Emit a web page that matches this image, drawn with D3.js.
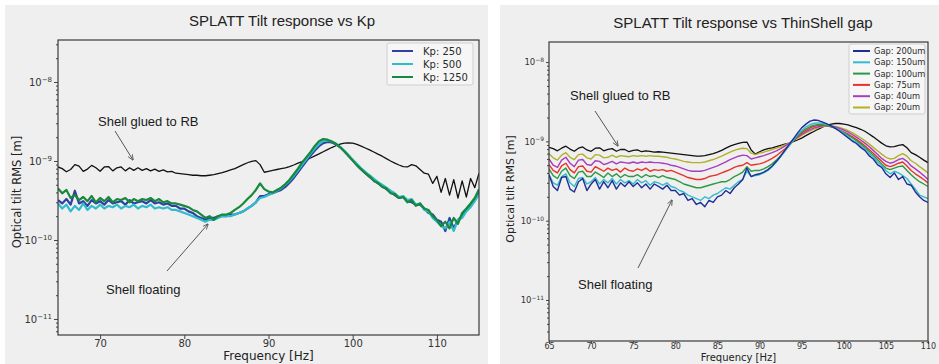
<!DOCTYPE html>
<html>
<head>
<meta charset="utf-8">
<script src="https://cdn.jsdelivr.net/npm/d3@7"></script>
<style>
  body { margin: 0; background: #fff; }
  svg { display: block; }
</style>
</head>
<body>
<svg id="chart" width="939" height="364"></svg>
<script>
// frequency grid of both measurements: one sample every 0.5 Hz from 65 Hz
const freqStart = 65;
const freqStep = 0.5;

// optical tilt RMS, in units of 1e-10 m
const yUnit = 1e-10;

// left panel: 65 .. 115 Hz
const kpGlued = [
  8.4, 8.0, 7.3, 7.8, 9.0, 8.6, 7.4, 7.9, 8.8, 8.2,
  7.4, 8.4, 8.5, 7.5, 8.2, 8.4, 7.5, 8.2, 7.6, 8.2,
  7.6, 8.0, 7.5, 7.9, 7.4, 7.7, 7.3, 7.4, 7.0, 6.9,
  6.8, 6.7, 6.6, 6.6, 6.5, 6.5, 6.6, 6.7, 6.9, 7.1,
  7.4, 7.7, 8.0, 8.5, 9.0, 9.5, 9.9, 10.1, 9.0, 7.2,
  7.4, 7.6, 7.8, 8.0, 8.2, 8.5, 8.9, 9.4, 9.8, 10.3,
  10.9, 11.6, 12.3, 13.1, 13.9, 14.8, 15.6, 16.3, 16.8, 17.0,
  16.8, 16.2, 15.4, 14.6, 13.8, 13.0, 12.2, 11.5, 10.7, 10.0,
  9.4, 8.9, 8.5, 8.4, 9.0, 8.7, 7.8, 7.0, 6.8, 5.2,
  6.4, 4.0, 6.0, 3.7, 5.8, 3.4, 5.6, 3.5, 6.0, 4.6,
  7.0
];
const kp250 = [
  3.2, 2.9, 3.3, 2.8, 4.2, 2.9, 3.1, 2.7, 3.2, 2.9,
  3.1, 2.8, 3.2, 2.9, 3.0, 3.1, 2.8, 3.2, 2.9, 3.0,
  3.1, 2.9, 3.2, 2.9, 3.0, 2.8, 2.9, 2.7, 2.7, 2.5,
  2.5, 2.3, 2.2, 2.0, 1.9, 1.8, 1.9, 1.9, 2.0, 2.0,
  2.0, 2.1, 2.1, 2.2, 2.3, 2.5, 2.7, 3.0, 3.6, 3.6,
  3.8, 3.9, 4.1, 4.3, 4.7, 5.3, 6.1, 7.2, 8.5, 10.0,
  11.7, 13.6, 15.4, 16.8, 17.4, 17.2, 16.3, 14.9, 13.3, 11.7,
  10.2, 8.9, 7.8, 7.0, 6.3, 5.7, 5.2, 4.8, 4.4, 4.0,
  3.7, 3.4, 3.5, 3.1, 3.0, 2.8, 2.8, 2.5, 2.2, 2.1,
  1.8, 1.7, 1.3, 1.9, 1.4, 1.8, 2.0, 2.4, 2.7, 3.2,
  4.0
];
const kp500 = [
  2.9, 2.5, 2.8, 2.3, 2.7, 2.4, 2.9, 2.4, 2.7, 2.5,
  2.8, 2.5, 2.7, 2.6, 2.8, 2.5, 2.7, 2.6, 2.8, 2.5,
  2.7, 2.6, 2.8, 2.5, 2.6, 2.5, 2.6, 2.4, 2.4, 2.3,
  2.2, 2.1, 2.0, 1.9, 1.8, 1.7, 1.8, 1.8, 1.9, 2.0,
  2.0, 2.0, 2.1, 2.2, 2.3, 2.5, 2.7, 3.0, 3.4, 3.5,
  3.7, 3.9, 4.2, 4.5, 5.0, 5.6, 6.5, 7.6, 9.0, 10.6,
  12.4, 14.4, 16.3, 17.8, 18.2, 17.7, 16.6, 15.1, 13.5, 11.9,
  10.4, 9.2, 8.1, 7.3, 6.6, 6.0, 5.4, 5.0, 4.6, 4.2,
  3.9, 3.5, 3.6, 3.2, 3.3, 2.8, 2.9, 2.4, 2.3, 1.9,
  1.7, 1.5, 1.4, 1.7, 1.3, 1.8, 1.9, 2.3, 2.6, 3.1,
  3.8
];
const kp1250 = [
  4.5, 3.9, 4.3, 3.4, 3.7, 3.2, 3.5, 3.1, 3.6, 3.0,
  3.4, 3.1, 3.5, 3.0, 3.3, 3.2, 3.4, 3.0, 3.3, 3.1,
  3.3, 3.2, 3.4, 3.1, 3.3, 3.0, 3.1, 2.9, 2.9, 2.8,
  2.7, 2.6, 2.4, 2.3, 2.1, 1.9, 2.0, 1.8, 2.0, 2.1,
  2.1, 2.2, 2.4, 2.6, 2.9, 3.3, 3.7, 4.3, 5.2, 4.4,
  4.1, 4.0, 4.3, 4.6, 5.1, 5.8, 6.8, 8.0, 9.6, 11.2,
  13.0, 15.5, 17.8, 19.0, 18.6, 17.6, 16.5, 15.0, 13.3, 11.6,
  10.1, 8.8, 7.9, 7.0, 6.4, 5.6, 5.3, 4.7, 4.5, 3.9,
  3.8, 3.4, 3.5, 3.0, 3.2, 2.7, 2.9, 2.5, 2.4, 2.0,
  1.8, 1.5, 1.7, 1.4, 1.9, 1.6, 2.2, 2.5, 2.9, 3.4,
  4.4
];

// right panel: 65 .. 110 Hz
const gapGlued = [
  8.4, 8.1, 7.6, 8.2, 8.7, 8.0, 7.5, 8.2, 8.5, 7.8,
  7.5, 8.2, 8.3, 7.6, 7.9, 8.1, 7.5, 7.9, 7.9, 7.4,
  7.7, 7.8, 7.4, 7.6, 7.5, 7.3, 7.4, 7.3, 7.2, 7.1,
  7.0, 6.9, 6.8, 6.7, 6.6, 6.5, 6.5, 6.6, 6.8, 7.0,
  7.3, 7.7, 8.2, 8.7, 9.1, 9.4, 9.7, 9.8, 7.8, 6.9,
  7.4, 7.8, 8.1, 8.3, 8.6, 8.9, 9.2, 9.5, 9.9, 10.4,
  11.0, 11.8, 12.6, 13.4, 14.3, 15.2, 15.9, 16.5, 16.8, 16.8,
  16.5, 16.1, 15.5, 14.9, 14.2, 13.4, 12.4, 11.4, 10.4, 9.5,
  8.8, 8.5, 8.6, 8.9, 9.1, 8.3, 7.2, 6.8, 6.3, 5.8,
  5.4
];
const gap200 = [
  3.8, 2.7, 2.4, 3.5, 3.6, 2.5, 2.3, 3.1, 3.4, 2.4,
  2.9, 3.3, 2.5, 3.1, 2.6, 3.2, 2.5, 3.0, 2.7, 3.1,
  2.7, 3.0, 2.6, 2.9, 2.5, 2.9, 2.7, 2.5, 2.8, 2.4,
  2.4, 2.1, 2.2, 1.8, 1.9, 1.6, 1.7, 1.5, 1.8, 1.7,
  2.0, 2.1, 2.4, 2.2, 2.6, 2.9, 3.3, 4.6, 3.6, 3.8,
  3.9, 4.1, 4.4, 4.9, 5.6, 6.5, 7.7, 9.1, 10.7, 12.7,
  14.8, 16.5, 18.0, 18.6, 18.3, 17.5, 16.6, 15.7, 14.6, 13.4,
  12.2, 11.1, 10.1, 9.4, 8.4, 7.7, 6.6, 6.0, 5.1, 4.7,
  3.9, 3.5, 4.0, 3.3, 3.6, 2.9, 2.8, 2.3, 2.0, 1.8,
  1.7
];
const gap150 = [
  3.8, 3.0, 2.8, 3.6, 3.9, 3.0, 2.7, 3.4, 3.5, 2.9,
  3.1, 3.5, 2.9, 3.3, 3.0, 3.4, 2.9, 3.3, 3.0, 3.2,
  2.9, 3.3, 3.0, 3.2, 2.8, 3.1, 3.0, 2.8, 3.0, 2.7,
  2.6, 2.4, 2.3, 2.1, 2.0, 1.9, 1.8, 2.0, 1.9, 2.1,
  2.2, 2.4, 2.6, 2.5, 2.8, 3.1, 3.3, 4.2, 3.6, 3.7,
  3.8, 4.0, 4.3, 4.8, 5.5, 6.4, 7.5, 8.8, 10.3, 12.1,
  13.7, 15.2, 16.3, 16.9, 17.1, 16.9, 16.4, 15.7, 14.8, 13.7,
  12.6, 11.5, 10.4, 9.8, 8.8, 8.1, 7.0, 6.4, 5.5, 5.0,
  4.3, 3.9, 4.2, 4.0, 3.7, 3.4, 2.9, 2.5, 2.1, 2.0,
  1.9
];
const gap100 = [
  4.5, 3.7, 3.4, 4.2, 4.6, 3.7, 3.4, 4.1, 4.2, 3.6,
  3.6, 4.1, 3.8, 3.5, 4.0, 3.6, 3.9, 3.5, 3.8, 3.6,
  3.6, 3.8, 3.5, 3.8, 3.6, 3.7, 3.5, 3.7, 3.5, 3.4,
  3.3, 3.1, 2.9, 2.8, 2.7, 2.6, 2.6, 2.7, 2.8, 2.9,
  3.0, 3.1, 3.1, 3.3, 3.6, 3.8, 4.1, 4.8, 4.2, 4.3,
  4.3, 4.5, 4.8, 5.2, 5.8, 6.6, 7.6, 8.8, 10.2, 11.8,
  13.2, 14.4, 15.4, 16.0, 16.3, 16.2, 15.9, 15.3, 14.6, 13.8,
  12.9, 12.0, 11.1, 10.2, 9.3, 8.4, 7.5, 6.7, 5.9, 5.2,
  4.6, 4.4, 4.6, 4.8, 4.9, 4.3, 3.8, 3.4, 3.1, 2.9,
  2.7
];
const gap75 = [
  5.1, 4.3, 4.0, 4.9, 5.3, 4.4, 4.0, 4.8, 4.9, 4.2,
  4.1, 4.8, 4.5, 4.2, 4.6, 4.3, 4.5, 4.1, 4.6, 4.3,
  4.2, 4.5, 4.3, 4.6, 4.2, 4.4, 4.3, 4.4, 4.2, 4.3,
  4.1, 3.9, 3.7, 3.5, 3.4, 3.3, 3.3, 3.4, 3.6, 3.7,
  3.8, 4.0, 4.2, 4.4, 4.7, 4.9, 5.0, 5.4, 5.0, 5.1,
  5.2, 5.4, 5.7, 6.1, 6.6, 7.3, 8.0, 8.9, 10.2, 11.5,
  12.7, 13.8, 14.8, 15.5, 15.9, 16.0, 15.8, 15.3, 14.7, 13.9,
  13.1, 12.3, 11.5, 10.6, 9.7, 8.8, 7.9, 7.1, 6.3, 5.6,
  5.0, 4.8, 5.0, 5.3, 5.5, 4.9, 4.3, 3.9, 3.6, 3.3,
  3.0
];
const gap40 = [
  6.0, 5.0, 4.7, 5.8, 6.3, 5.3, 4.8, 5.8, 5.9, 5.1,
  5.0, 5.7, 5.6, 5.1, 5.3, 5.6, 5.2, 5.5, 5.4, 5.3,
  5.5, 5.3, 5.5, 5.4, 5.5, 5.4, 5.4, 5.3, 5.2, 5.0,
  4.9, 4.7, 4.5, 4.3, 4.2, 4.2, 4.2, 4.3, 4.5, 4.7,
  4.9, 5.2, 5.5, 5.9, 6.2, 6.5, 6.7, 6.6, 6.0, 6.2,
  6.4, 6.6, 6.9, 7.2, 7.6, 8.1, 8.7, 9.4, 10.3, 11.2,
  12.2, 13.2, 14.1, 14.8, 15.3, 15.7, 15.8, 15.6, 15.2, 14.6,
  13.9, 13.1, 12.2, 11.3, 10.4, 9.5, 8.6, 7.7, 6.9, 6.1,
  5.6, 5.3, 5.5, 5.9, 6.1, 5.6, 4.9, 4.5, 4.1, 3.7,
  3.3
];
const gap20 = [
  7.0, 6.2, 5.8, 6.7, 7.2, 6.3, 5.9, 6.8, 6.9, 6.2,
  6.0, 6.8, 6.7, 6.2, 6.3, 6.7, 6.3, 6.6, 6.5, 6.4,
  6.6, 6.5, 6.6, 6.5, 6.6, 6.5, 6.5, 6.4, 6.3, 6.1,
  6.0, 5.8, 5.6, 5.5, 5.4, 5.4, 5.4, 5.5, 5.7, 5.9,
  6.2, 6.5, 6.9, 7.3, 7.7, 8.0, 8.2, 8.1, 7.1, 6.8,
  7.1, 7.3, 7.6, 7.9, 8.2, 8.6, 9.0, 9.5, 10.2, 11.0,
  11.9, 12.8, 13.6, 14.3, 14.9, 15.4, 15.6, 15.6, 15.4, 15.0,
  14.4, 13.7, 12.9, 12.0, 11.1, 10.2, 9.3, 8.4, 7.6, 6.9,
  6.3, 6.0, 6.1, 6.6, 7.0, 6.5, 5.7, 5.3, 4.8, 4.4,
  4.0
];

const kpLabels = ["Kp: 250", "Kp: 500", "Kp: 1250"];
const gapLabels = ["Gap: 200um", "Gap: 150um", "Gap: 100um", "Gap: 75um", "Gap: 40um", "Gap: 20um"];
const kpXTicks = [70, 80, 90, 100, 110];
const gapXTicks = [65, 70, 75, 80, 85, 90, 95, 100, 105, 110];
const yDecades = [1e-11, 1e-10, 1e-9, 1e-8];

const svg = d3.select("#chart");
const defs = svg.append("defs");
defs.append("marker")
  .attr("id", "arrowhead")
  .attr("viewBox", "0 0 10 10")
  .attr("refX", 9).attr("refY", 5)
  .attr("markerWidth", 6).attr("markerHeight", 6)
  .attr("orient", "auto-start-reverse")
  .append("path")
  .attr("d", "M0,1 L10,5 L0,9")
  .attr("fill", "none")
  .attr("stroke", "#555")
  .attr("stroke-width", 1.4);

function toPoints(values) {
  return values.map((v, i) => ({ f: freqStart + i * freqStep, v: v * yUnit }));
}

function drawPanel(cfg) {
  const g = svg.append("g");
  g.append("rect")
    .attr("x", cfg.bg[0]).attr("y", cfg.bg[1])
    .attr("width", cfg.bg[2]).attr("height", cfg.bg[3])
    .attr("fill", "#efefef");

  const p = cfg.plot;
  const x = d3.scaleLinear().domain(cfg.xDomain).range([p.left, p.right]);
  const y = d3.scaleLog().domain(cfg.yDomain).range([p.bottom, p.top]);

  // title
  g.append("text")
    .attr("x", cfg.titleX).attr("y", cfg.titleY)
    .attr("text-anchor", "middle")
    .attr("font-family", "Liberation Sans, Arial, sans-serif")
    .attr("font-size", 15)
    .attr("fill", "#222")
    .text(cfg.title);

  // curves
  const clipId = "clip-" + cfg.id;
  defs.append("clipPath").attr("id", clipId)
    .append("rect")
    .attr("x", p.left).attr("y", p.top)
    .attr("width", p.right - p.left).attr("height", p.bottom - p.top);

  const line = d3.line().x(d => x(d.f)).y(d => y(d.v));
  const lines = g.append("g").attr("clip-path", `url(#${clipId})`);
  cfg.series.forEach(s => {
    lines.append("path")
      .datum(toPoints(s.values))
      .attr("d", line)
      .attr("fill", "none")
      .attr("stroke", s.color)
      .attr("stroke-width", s.width)
      .attr("stroke-linejoin", "round");
  });

  // axes
  const xAxis = g.append("g")
    .attr("transform", `translate(0,${p.bottom})`)
    .call(d3.axisBottom(x).tickValues(cfg.xTicks).tickSize(cfg.tickLen).tickPadding(1).tickFormat(d3.format("d")));
  xAxis.selectAll(".tick text").attr("y", cfg.xTickY);

  const minor = y.ticks().filter(t => !yDecades.some(d => Math.abs(t - d) / d < 1e-6));
  g.append("g")
    .attr("transform", `translate(${p.left},0)`)
    .call(d3.axisLeft(y).tickValues(minor).tickSize(2).tickFormat(""));
  const yAxis = g.append("g")
    .attr("transform", `translate(${p.left},0)`)
    .call(d3.axisLeft(y).tickValues(yDecades.filter(d => d >= cfg.yDomain[0] && d <= cfg.yDomain[1]))
      .tickSize(cfg.tickLen).tickPadding(2).tickFormat(""));
  yAxis.selectAll(".tick text").each(function (d) {
    const t = d3.select(this);
    t.text("10");
    t.append("tspan")
      .attr("dy", "-0.55em")
      .attr("font-size", "0.7em")
      .text("\u2212" + Math.round(-Math.log10(d)));
  });

  xAxis.selectAll(".tick text")
    .attr("font-family", "DejaVu Sans, sans-serif")
    .attr("font-size", cfg.xTickFont)
    .attr("fill", "#333");
  yAxis.selectAll(".tick text")
    .attr("font-family", "DejaVu Sans, sans-serif")
    .attr("font-size", cfg.yTickFont)
    .attr("fill", "#333");
  g.selectAll(".domain").remove();
  g.selectAll(".tick line").attr("stroke", "#444");

  // frame
  g.append("rect")
    .attr("x", p.left).attr("y", p.top)
    .attr("width", p.right - p.left).attr("height", p.bottom - p.top)
    .attr("fill", "none")
    .attr("stroke", "#3a3a3a")
    .attr("stroke-width", 1.2);

  // axis titles
  g.append("text")
    .attr("x", (p.left + p.right) / 2).attr("y", cfg.xLabelY)
    .attr("text-anchor", "middle")
    .attr("font-family", "DejaVu Sans, sans-serif")
    .attr("font-size", cfg.labelFont)
    .attr("fill", "#222")
    .text("Frequency [Hz]");
  g.append("text")
    .attr("transform", `translate(${cfg.yLabelX},${cfg.yLabelY}) rotate(-90)`)
    .attr("text-anchor", "middle")
    .attr("font-family", "DejaVu Sans, sans-serif")
    .attr("font-size", cfg.yLabelFont)
    .attr("fill", "#222")
    .text("Optical tilt RMS [m]");

  // legend
  const L = cfg.legend;
  const lg = g.append("g");
  lg.append("rect")
    .attr("x", L.x).attr("y", L.y).attr("width", L.w).attr("height", L.h)
    .attr("rx", 2)
    .attr("fill", "#f6f6f6")
    .attr("stroke", "#cfcfcf");
  L.items.forEach((it, i) => {
    const yy = L.y + L.first + i * L.row;
    const x1 = L.x + L.pad;
    lg.append("line")
      .attr("x1", x1).attr("x2", x1 + L.lineLen)
      .attr("y1", yy).attr("y2", yy)
      .attr("stroke", it.color)
      .attr("stroke-width", 2);
    lg.append("text")
      .attr("x", x1 + L.lineLen + L.gap).attr("y", yy)
      .attr("dy", "0.35em")
      .attr("font-family", "DejaVu Sans, sans-serif")
      .attr("font-size", L.font)
      .attr("fill", "#2a2a2a")
      .text(it.label);
  });

  // annotations
  cfg.notes.forEach(n => {
    g.append("text")
      .attr("x", n.tx).attr("y", n.ty)
      .attr("font-family", "Liberation Sans, Arial, sans-serif")
      .attr("font-size", 13)
      .attr("fill", "#1a1a1a")
      .text(n.text);
    g.append("line")
      .attr("x1", n.from[0]).attr("y1", n.from[1])
      .attr("x2", n.to[0]).attr("y2", n.to[1])
      .attr("stroke", "#555")
      .attr("stroke-width", 1)
      .attr("marker-end", "url(#arrowhead)");
  });
}

const kpColors = ["#2f3fa3", "#2fbccb", "#17883c"];
const gapColors = ["#1f2d96", "#34bccc", "#2c9a45", "#e8322b", "#a93dbd", "#b1b12a"];

drawPanel({
  id: "kp",
  bg: [5, 5, 483, 359],
  plot: { left: 58, right: 479, top: 40, bottom: 335 },
  xDomain: [65, 115],
  yDomain: [6.27e-12, 3.4e-8],
  xTicks: kpXTicks,
  tickLen: 4,
  xTickY: 5,
  xTickFont: 10,
  yTickFont: 10,
  labelFont: 12,
  yLabelFont: 11.5,
  xLabelY: 360,
  yLabelX: 21,
  yLabelY: 192,
  title: "SPLATT Tilt response vs Kp",
  titleX: 282, titleY: 26,
  series: [
    { values: kpGlued, color: "#111", width: 1.3 },
    { values: kp250, color: kpColors[0], width: 2.2 },
    { values: kp500, color: kpColors[1], width: 2.2 },
    { values: kp1250, color: kpColors[2], width: 2.2 }
  ],
  legend: {
    x: 387, y: 43, w: 86, h: 42, first: 8, row: 13, pad: 5, lineLen: 21, gap: 10, font: 10,
    items: kpLabels.map((l, i) => ({ label: l, color: kpColors[i] }))
  },
  notes: [
    { text: "Shell glued to RB", tx: 98, ty: 126, from: [115, 131], to: [133, 160] },
    { text: "Shell floating", tx: 106, ty: 294, from: [167, 271], to: [208, 224] }
  ]
});

drawPanel({
  id: "gap",
  bg: [500, 5, 439, 359],
  plot: { left: 549, right: 928, top: 42, bottom: 341 },
  xDomain: [65, 110],
  yDomain: [3.04e-12, 1.79e-8],
  xTicks: gapXTicks,
  tickLen: 3,
  xTickY: 2,
  xTickFont: 8,
  yTickFont: 8.5,
  labelFont: 10,
  yLabelFont: 11,
  xLabelY: 361,
  yLabelX: 514,
  yLabelY: 189,
  title: "SPLATT Tilt response vs ThinShell gap",
  titleX: 743, titleY: 28,
  series: [
    { values: gapGlued, color: "#111", width: 1.3 },
    { values: gap20, color: gapColors[5], width: 1.4 },
    { values: gap40, color: gapColors[4], width: 1.4 },
    { values: gap75, color: gapColors[3], width: 1.4 },
    { values: gap100, color: gapColors[2], width: 1.4 },
    { values: gap150, color: gapColors[1], width: 1.4 },
    { values: gap200, color: gapColors[0], width: 1.4 }
  ],
  legend: {
    x: 849, y: 44, w: 76, h: 70, first: 7, row: 11.3, pad: 4, lineLen: 17, gap: 4, font: 8.3,
    items: gapLabels.map((l, i) => ({ label: l, color: gapColors[i] }))
  },
  notes: [
    { text: "Shell glued to RB", tx: 570, ty: 100, from: [595, 111], to: [618, 146] },
    { text: "Shell floating", tx: 578, ty: 289, from: [638, 268], to: [672, 200] }
  ]
});
</script>
</body>
</html>
